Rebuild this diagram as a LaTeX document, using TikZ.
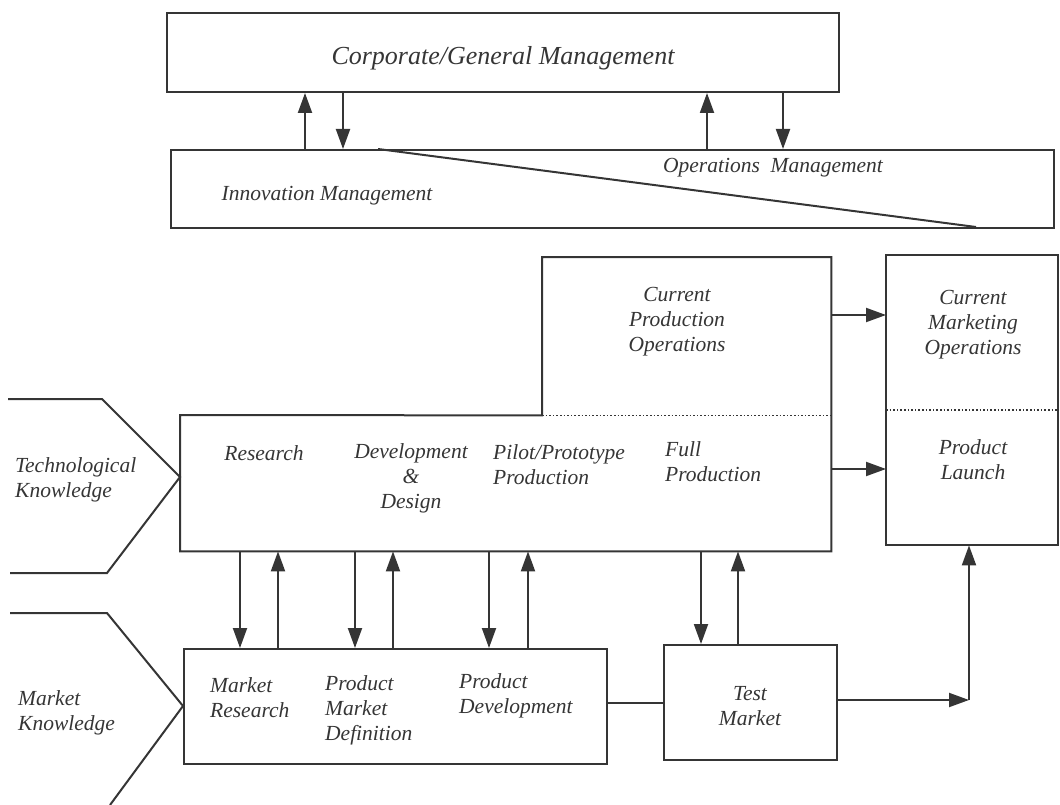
\documentclass[tikz,border=0pt]{standalone}
\usepackage{fontspec}
\setmainfont{Liberation Serif}
\usetikzlibrary{arrows.meta}
\definecolor{inkc}{HTML}{353535}
\begin{document}
\begin{tikzpicture}[x=1pt,y=-1pt,
  ink/.style={draw=inkc, line width=2pt},
  box/.style={ink, rectangle, inner sep=0pt, anchor=north west},
  region/.style={rectangle, inner sep=0pt, anchor=north west},
  arr/.style={ink, -{Triangle[length=20pt,width=14pt]}, fill=inkc},
  sep/.style={draw=inkc, line width=1.6pt, dotted},
  txt/.style={font=\fontsize{21.5}{25}\selectfont\itshape, text=inkc, inner sep=0pt},
  big/.style={font=\fontsize{26}{30}\selectfont\itshape, text=inkc, inner sep=0pt}
]
\useasboundingbox (0,0) rectangle (1060,805);

% ---------- management layer ----------
\node[box, minimum width=672pt, minimum height=79pt] (corp) at (166,12) {};
\node[big] (corpt) at (503,58) {Corporate/General Management};

\node[box, minimum width=883pt, minimum height=78pt] (mgmt) at (170,149) {};
\coordinate (diagA) at (378,149);
\coordinate (diagB) at (976,227);
\draw[ink] (diagA) -- (diagB);
\node[txt] (innov) at (327,196) {Innovation Management};
\node[txt] (opsm) at (773,168) {Operations\enspace Management};

\coordinate (ua) at (305,0);
\coordinate (da) at (343,0);
\coordinate (ub) at (707,0);
\coordinate (db) at (783,0);
\draw[arr] (ua |- mgmt.north) -- (ua |- corp.south);
\draw[arr] (da |- corp.south) -- (da |- mgmt.north);
\draw[arr] (ub |- mgmt.north) -- (ub |- corp.south);
\draw[arr] (db |- corp.south) -- (db |- mgmt.north);

% ---------- production block ----------
\node[region, minimum width=651pt, minimum height=136pt] (prod) at (180,415) {};
\node[region, minimum width=289pt, minimum height=158pt] (cpo) at (542,257) {};
\draw[ink, line join=miter] (prod.north west) -- (cpo.south west) -- (cpo.north west)
  -- (cpo.north east) -- (prod.south east) -- (prod.south west) -- cycle;
\draw[sep] (cpo.south west) -- (cpo.south east);

\node[txt, align=center] (cpot) at (677,322) {Current\\Production\\Operations};
\node[txt] (res) at (264,453) {Research};
\node[txt, align=center] (dd) at (411,478) {Development\\\&\\Design};
\node[txt, align=left, anchor=west] (pilot) at (493,465) {Pilot/Prototype\\Production};
\node[txt, align=left, anchor=west] (full) at (665,462) {Full\\Production};

% ---------- marketing block ----------
\node[region, minimum width=172pt, minimum height=155pt] (cmo) at (886,255) {};
\node[region, minimum width=172pt, minimum height=135pt] (launch) at (886,410) {};
\draw[ink] (cmo.north west) rectangle (launch.south east);
\draw[sep] (launch.north west) -- (launch.north east);
\node[txt, align=center] (cmot) at (973,325) {Current\\Marketing\\Operations};
\node[txt, align=center] (launcht) at (973,460) {Product\\Launch};

\coordinate (h1) at (0,315);
\coordinate (h2) at (0,469);
\draw[arr] (h1 -| prod.east) -- (h1 -| cmo.west);
\draw[arr] (h2 -| prod.east) -- (h2 -| launch.west);

% ---------- market block ----------
\node[box, minimum width=423pt, minimum height=115pt] (mkt) at (183,648) {};
\node[txt, align=left, anchor=west] (mres) at (210,698) {Market\\Research};
\node[txt, align=left, anchor=west] (pmd) at (325,710) {Product\\Market\\Definition};
\node[txt, align=left, anchor=west] (pdev) at (459,696) {Product\\Development};

\node[box, minimum width=173pt, minimum height=115pt] (test) at (663,644) {};
\node[txt, align=center] (testt) at (750,706) {Test\\Market};

\coordinate (hm) at (0,703);
\draw[ink] (hm -| mkt.east) -- (hm -| test.west);
\coordinate (ht) at (0,700);
\coordinate (corner) at (969,700);
\draw[arr] (ht -| test.east) -- (corner);
\draw[arr] (corner) -- (corner |- launch.south);

% vertical links between production and market
\foreach \xd/\xu in {240/278, 355/393, 489/528}{
  \coordinate (dn) at (\xd,0);
  \coordinate (up) at (\xu,0);
  \draw[arr] (dn |- prod.south) -- (dn |- mkt.north);
  \draw[arr] (up |- mkt.north) -- (up |- prod.south);
}
\coordinate (tdn) at (701,0);
\coordinate (tup) at (738,0);
\draw[arr] (tdn |- prod.south) -- (tdn |- test.north);
\draw[arr] (tup |- test.north) -- (tup |- prod.south);

% ---------- knowledge inputs ----------
\coordinate (tk1) at (8,399);
\coordinate (tk2) at (102,399);
\coordinate (tk3) at (107,573);
\coordinate (tk4) at (10,573);
\draw[ink, line join=miter] (tk1) -- (tk2) -- (prod.west |- 0,477) -- (tk3) -- (tk4);
\node[txt, align=left, anchor=west] (techk) at (15,480) {Technological\\Knowledge};

\coordinate (mk1) at (10,613);
\coordinate (mk2) at (107,613);
\coordinate (mk3) at (110,805);
\draw[ink, line join=miter] (mk1) -- (mk2) -- (mkt.west |- 0,706) -- (mk3);
\node[txt, align=left, anchor=west] (mktk) at (18,713) {Market\\Knowledge};
\end{tikzpicture}
\end{document}
